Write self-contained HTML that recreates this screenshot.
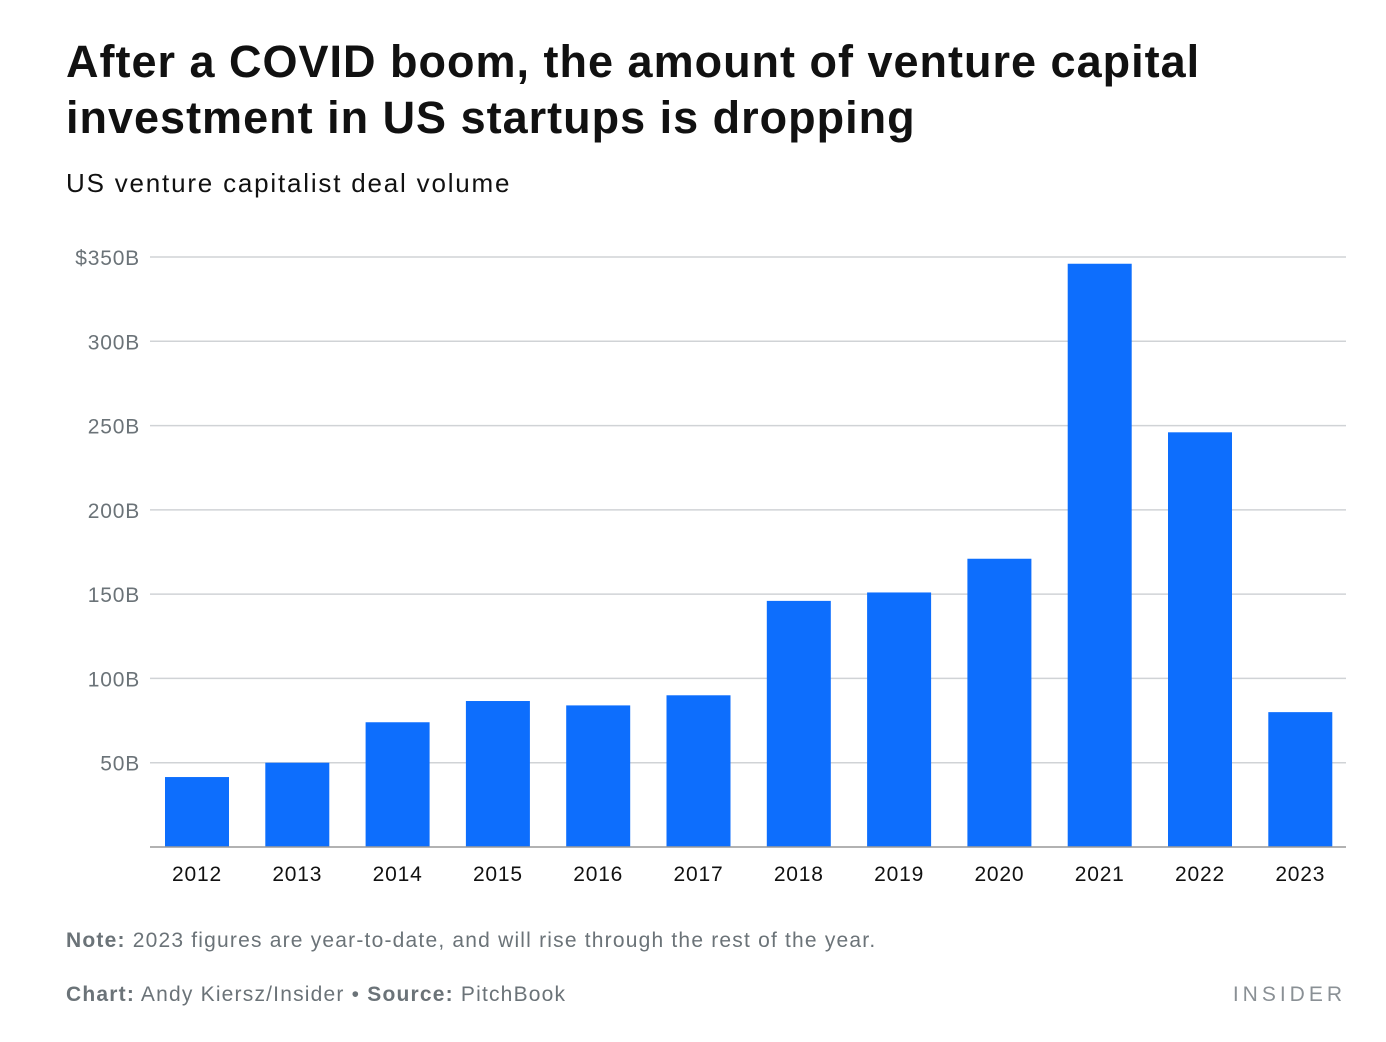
<!DOCTYPE html>
<html><head><meta charset="utf-8"><style>
body{margin:0;background:#fff;width:1386px;height:1042px;overflow:hidden;font-family:"Liberation Sans",sans-serif;}
.t{position:absolute;left:66px;top:34px;font-size:45px;font-weight:bold;line-height:56px;color:#111;letter-spacing:1px;}
.s{position:absolute;left:66px;top:168px;font-size:26px;color:#111;letter-spacing:1.8px;}
.n{position:absolute;left:66px;top:929px;font-size:21px;color:#6b7378;letter-spacing:1.2px;}
.c{position:absolute;left:66px;top:983px;font-size:21px;color:#6b7378;letter-spacing:1.2px;}
.i{position:absolute;right:40px;top:983px;font-size:21px;color:#8a9095;letter-spacing:4px;}
b{font-weight:bold;}
</style></head><body>
<div class="t">After a COVID boom, the amount of venture capital<br>investment in US startups is dropping</div>
<div class="s">US venture capitalist deal volume</div>
<svg id="chart" width="1386" height="1042" style="position:absolute;left:0;top:0"></svg>
<div class="n"><b>Note:</b> 2023 figures are year-to-date, and will rise through the rest of the year.</div>
<div class="c"><b>Chart:</b> Andy Kiersz/Insider • <b>Source:</b> PitchBook</div>
<div class="i">INSIDER</div>
<script>
const categories=["2012","2013","2014","2015","2016","2017","2018","2019","2020","2021","2022","2023"];
const values=[41.5,50,74,86.6,84,90,146,151,171,346,246,80];
const ticks=[50,100,150,200,250,300,350];
const tickLabels=["50B","100B","150B","200B","250B","300B","$350B"];
const svg=document.getElementById('chart');const NS="http://www.w3.org/2000/svg";
const x0=150,x1=1346,y0=847,y350=257;
const y=v=>y0-(v/350)*(y0-y350);
const bw=100.3, barW=64;
const bx=i=>x0+15+i*bw;
function mk(t,a){const e=document.createElementNS(NS,t);for(const k in a)e.setAttribute(k,a[k]);svg.appendChild(e);return e;}
ticks.forEach((t,i)=>{
 const l=mk('line',{x1:x0,x2:x1,y1:y(t),y2:y(t),stroke:'#d0d3d6','stroke-width':1.5});
 
 
 const tx=mk('text',{x:140,y:y(t)+8,'text-anchor':'end','font-size':21,fill:'#6b7378','font-family':'Liberation Sans','letter-spacing':'0.8'});
 tx.textContent=tickLabels[i];
 
 
});
values.forEach((v,i)=>{
 const r=mk('rect',{x:bx(i),y:y(v),width:barW,height:y0-y(v),fill:'#0d6efd'});
 
 
 const tx=mk('text',{x:bx(i)+barW/2,y:881,'text-anchor':'middle','font-size':21,fill:'#111','font-family':'Liberation Sans','letter-spacing':'0.8'});
 tx.textContent=categories[i];
 
 
});
const ax=mk('line',{x1:x0,x2:x1,y1:y0,y2:y0,stroke:'#999','stroke-width':1.5});


</script>
</body></html>
